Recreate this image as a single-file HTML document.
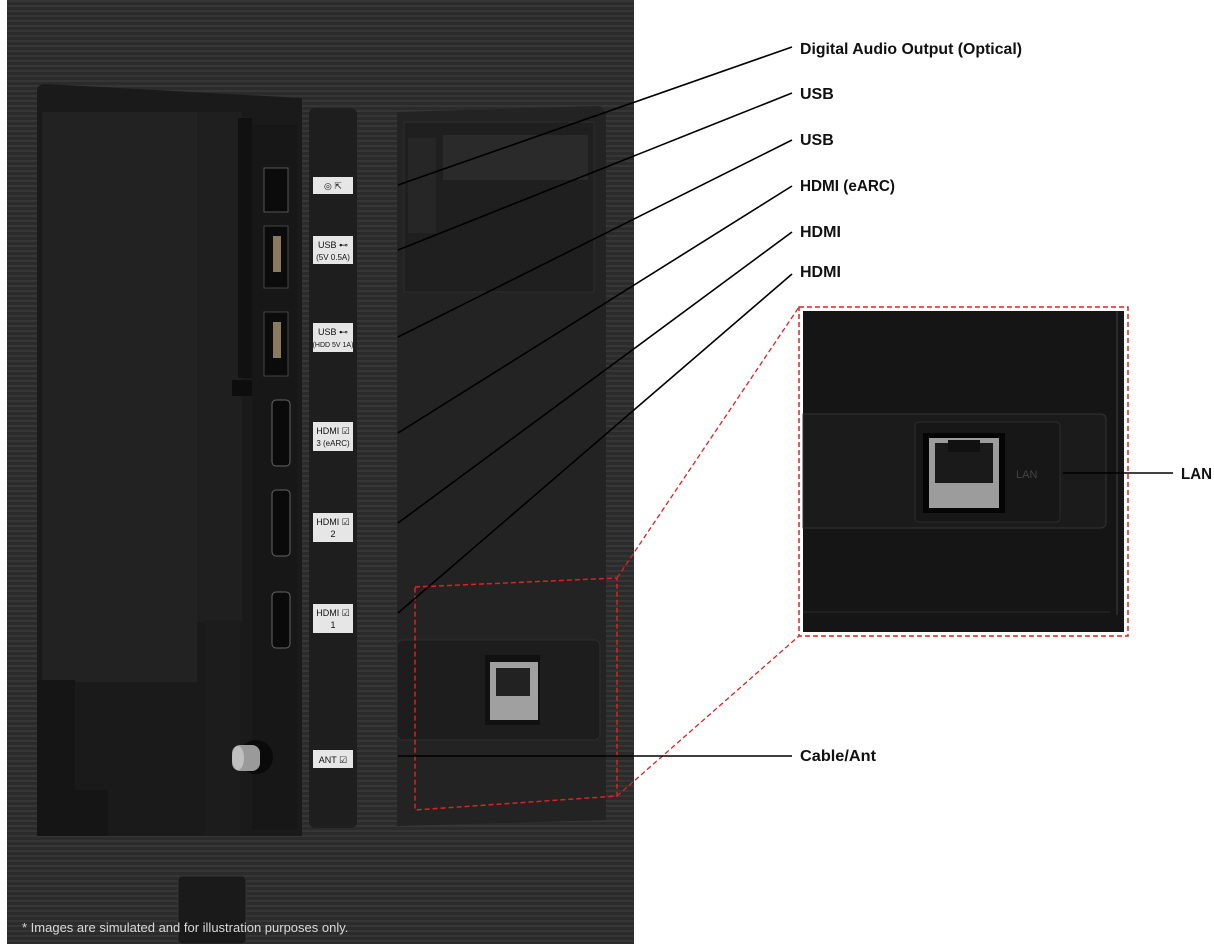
<!DOCTYPE html>
<html><head><meta charset="utf-8"><style>
html,body{margin:0;padding:0;background:#fff;width:1214px;height:944px;overflow:hidden}
svg{display:block}
text{font-family:"Liberation Sans",sans-serif}
</style></head><body>
<svg width="1214" height="944" viewBox="0 0 1214 944">
<defs>
<pattern id="st" width="5" height="5" patternUnits="userSpaceOnUse">
<rect width="5" height="5" fill="#2b2b2b"/><rect width="5" height="2" fill="#363636"/>
</pattern>
</defs>
<rect x="7" y="0" width="627" height="944" fill="url(#st)"/>
<!-- left recess -->
<path d="M37 92 Q37 84 45 84 L302 98 L302 836 L37 836 Z" fill="#1a1a1a"/>
<rect x="42" y="112" width="155" height="570" fill="#222"/>
<rect x="197" y="112" width="45" height="510" fill="#1f1f1f"/>
<path d="M37 680 L75 680 L75 790 L108 790 L108 836 L37 836 Z" fill="#151515"/>
<path d="M205 620 L240 620 L240 836 L205 836 Z" fill="#1c1c1c"/>
<!-- port strip -->
<rect x="238" y="118" width="14" height="260" fill="#111"/>
<rect x="252" y="125" width="45" height="705" fill="#171717"/>
<rect x="232" y="380" width="20" height="16" fill="#0d0d0d"/>
<!-- ports -->
<rect x="264" y="168" width="24" height="44" fill="#0b0b0b" stroke="#555" stroke-width="1"/>
<rect x="264" y="226" width="24" height="62" fill="#0b0b0b" stroke="#444"/>
<rect x="273" y="236" width="8" height="36" fill="#8a7a60"/>
<rect x="264" y="312" width="24" height="64" fill="#0b0b0b" stroke="#444"/>
<rect x="273" y="322" width="8" height="36" fill="#8a7a60"/>
<rect x="272" y="400" width="18" height="66" rx="4" fill="#0a0a0a" stroke="#666"/>
<rect x="272" y="490" width="18" height="66" rx="4" fill="#0a0a0a" stroke="#666"/>
<rect x="272" y="592" width="18" height="56" rx="4" fill="#0a0a0a" stroke="#666"/>
<circle cx="256" cy="757" r="17" fill="#0a0a0a"/>
<rect x="232" y="745" width="28" height="26" rx="8" fill="#9a9a9a"/>
<ellipse cx="238" cy="758" rx="6" ry="12" fill="#c0c0c0"/>
<!-- label strip -->
<rect x="309" y="108" width="48" height="720" rx="6" fill="#1e1e1e"/>
<g fill="#e6e6e6">
<rect x="313" y="177" width="40" height="17"/>
<rect x="313" y="236" width="40" height="28"/>
<rect x="313" y="323" width="40" height="29"/>
<rect x="313" y="422" width="40" height="29"/>
<rect x="313" y="513" width="40" height="29"/>
<rect x="313" y="604" width="40" height="29"/>
<rect x="313" y="750" width="40" height="18"/>
</g>
<g font-size="9" fill="#111" text-anchor="middle">
<text x="333" y="189">◎ ⇱</text>
<text x="333" y="248">USB ⊷</text><text x="333" y="260" font-size="8">(5V 0.5A)</text>
<text x="333" y="335">USB ⊷</text><text x="333" y="347" font-size="7">(HDD 5V 1A)</text>
<text x="333" y="434">HDMI ☑</text><text x="333" y="446" font-size="8">3 (eARC)</text>
<text x="333" y="525">HDMI ☑</text><text x="333" y="537">2</text>
<text x="333" y="616">HDMI ☑</text><text x="333" y="628">1</text>
<text x="333" y="763">ANT ☑</text>
</g>
<!-- right panel -->
<path d="M397 112 L600 106 L606 112 L606 820 L397 826 Z" fill="#232323"/>
<rect x="404" y="122" width="190" height="170" fill="#1f1f1f" stroke="#2c2c2c"/>
<rect x="443" y="135" width="145" height="45" fill="#2a2a2a"/>
<rect x="408" y="138" width="28" height="95" fill="#262626"/>
<rect x="397" y="640" width="203" height="100" rx="6" fill="#1d1d1d" stroke="#2e2e2e"/>
<rect x="485" y="655" width="55" height="70" fill="#111"/>
<rect x="490" y="662" width="48" height="58" fill="#a0a0a0"/>
<rect x="496" y="668" width="34" height="28" fill="#222"/>
<!-- bottom tab -->
<rect x="178" y="876" width="68" height="68" rx="4" fill="#1a1a1a" stroke="#333"/>
<text x="22" y="932" font-size="13" fill="#d8d8d8">* Images are simulated and for illustration purposes only.</text>
<!-- red small frame -->
<path d="M415 587 L617 578 L617 796 L415 810 Z" fill="none" stroke="#d22" stroke-width="1.5" stroke-dasharray="5,3"/>
<line x1="617" y1="578" x2="799" y2="307" stroke="#d22" stroke-width="1.3" stroke-dasharray="5,3"/>
<line x1="617" y1="796" x2="799" y2="636" stroke="#d22" stroke-width="1.3" stroke-dasharray="5,3"/>
<!-- inset -->
<rect x="803" y="311" width="321" height="321" fill="#151515"/>
<path d="M803 414 L1100 414 Q1106 414 1106 420 L1106 522 Q1106 528 1100 528 L803 528 Z" fill="#1b1b1b" stroke="#333"/>
<line x1="1117" y1="311" x2="1117" y2="615" stroke="#2a2a2a" stroke-width="2"/>
<line x1="803" y1="612" x2="1110" y2="612" stroke="#2a2a2a"/>
<rect x="915" y="422" width="145" height="100" rx="4" fill="#171717" stroke="#2d2d2d"/>
<rect x="923" y="433" width="82" height="80" fill="#050505"/>
<rect x="929" y="438" width="70" height="70" fill="#9c9c9c"/>
<rect x="935" y="443" width="58" height="40" fill="#1a1a1a"/>
<rect x="948" y="440" width="32" height="12" fill="#111"/>
<text x="1016" y="478" font-size="11" fill="#444">LAN</text>
<rect x="799" y="307" width="329" height="329" fill="none" stroke="#d22" stroke-width="1.5" stroke-dasharray="5,3"/>
<!-- leader lines -->
<g stroke="#000" stroke-width="1.6">
<line x1="398" y1="185" x2="792" y2="47"/>
<line x1="398" y1="250" x2="792" y2="93"/>
<line x1="398" y1="337" x2="792" y2="140"/>
<line x1="398" y1="433" x2="792" y2="186"/>
<line x1="398" y1="523" x2="792" y2="232"/>
<line x1="398" y1="613" x2="792" y2="274"/>
<line x1="398" y1="756" x2="792" y2="756"/>
<line x1="1063" y1="473" x2="1173" y2="473"/>
</g>
<g font-size="16" font-weight="bold" fill="#111">
<text x="800" y="54" textLength="222" lengthAdjust="spacingAndGlyphs">Digital Audio Output (Optical)</text>
<text x="800" y="99">USB</text>
<text x="800" y="145">USB</text>
<text x="800" y="191" textLength="95" lengthAdjust="spacingAndGlyphs">HDMI (eARC)</text>
<text x="800" y="237">HDMI</text>
<text x="800" y="277">HDMI</text>
<text x="800" y="761" textLength="76" lengthAdjust="spacingAndGlyphs">Cable/Ant</text>
<text x="1181" y="479" textLength="31" lengthAdjust="spacingAndGlyphs">LAN</text>
</g>
</svg>
</body></html>
